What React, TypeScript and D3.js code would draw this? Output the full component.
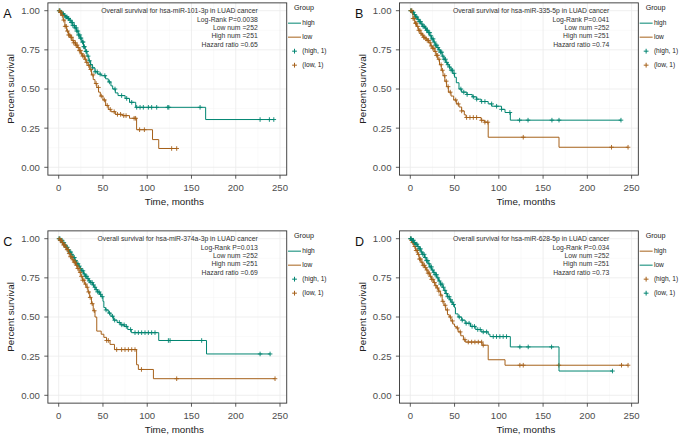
import React from "react";
import * as d3 from "d3";

type Step = [number, number];

const GREEN = "#018571";
const BROWN = "#a6611a";
const FONT = "'Liberation Sans', Arial, Helvetica, sans-serif";

const xTicks = [0, 50, 100, 150, 200, 250];
const xMinor = [25, 75, 125, 175, 225];
const yTicks = [0, 0.25, 0.5, 0.75, 1];
const yMinor = [0.125, 0.375, 0.625, 0.875];
const yTickLabels = ["0.00", "0.25", "0.50", "0.75", "1.00"];

// ---- panel A: hsa-miR-101-3p
const aHighSteps: Step[] = [
  [2, 0.99], [4, 0.98], [6, 0.97], [8, 0.96], [10, 0.95], [12, 0.94], [14, 0.925], [16, 0.905],
  [18, 0.89], [20, 0.87], [22, 0.845], [24, 0.825], [26, 0.8], [28, 0.77], [30, 0.74], [32, 0.71],
  [34, 0.68], [36, 0.655], [38, 0.635], [41, 0.61], [44, 0.595], [48, 0.585], [53, 0.565],
  [56, 0.545], [59, 0.52], [61, 0.5], [64, 0.475], [67, 0.458], [75, 0.44], [80, 0.415],
  [87, 0.383], [166, 0.305],
];
const aLowSteps: Step[] = [
  [1, 0.99], [3, 0.97], [5, 0.94], [7, 0.9], [9, 0.87], [11, 0.845], [13, 0.83], [15, 0.81],
  [17, 0.795], [19, 0.78], [21, 0.765], [23, 0.745], [25, 0.725], [27, 0.71], [29, 0.69],
  [31, 0.67], [33, 0.65], [35, 0.625], [37, 0.59], [39, 0.56], [41, 0.535], [43, 0.51],
  [45, 0.48], [47, 0.455], [50, 0.43], [53, 0.395], [56, 0.37], [59, 0.355], [64, 0.338],
  [72, 0.33], [80, 0.313], [88, 0.24], [106, 0.177], [113, 0.12],
];
const aHighCensor = [
  0.5, 1.5, 2.3, 3.1, 4.6, 5.2, 6.8, 8.1, 9.4, 10.7, 11.3, 12.9, 14.2, 15.5, 16.1, 17.8, 18.6,
  19.9, 20.4, 21.7, 22.3, 23.8, 24.5, 25.2, 26.9, 27.6, 28.3, 29.1, 30.8, 31.5, 33.2, 34.7,
  36.1, 38.4, 41.2, 43.5, 46.8, 52.1, 57.3, 63.6, 71.1, 76.8, 82.5, 88.1, 91.9, 95.6, 101.3,
  105, 110.7, 123.2, 124.4, 159.7, 227.5, 238, 243,
];
const aLowCensor = [
  0.8, 1.9, 2.6, 4.1, 5.7, 7.3, 8.6, 9.9, 11.2, 12.5, 13.8, 14.6, 16.3, 17.1, 18.9, 19.6, 20.8,
  22.1, 23.4, 24.7, 25.9, 27.2, 28.8, 30.1, 31.6, 33.9, 36.2, 38.7, 42.3, 44.9, 48.1, 51.6,
  54.8, 58.2, 62.7, 66.4, 69.9, 73.5, 76.1, 85.2, 86.9, 91.4, 96.8, 127.6, 133.3,
];

// ---- panel B: hsa-miR-335-5p
const bHighSteps: Step[] = [
  [2, 0.99], [4, 0.975], [6, 0.96], [8, 0.945], [10, 0.93], [12, 0.915], [14, 0.9], [16, 0.89],
  [18, 0.875], [20, 0.86], [22, 0.84], [24, 0.82], [26, 0.8], [28, 0.78], [30, 0.765],
  [32, 0.75], [34, 0.735], [36, 0.71], [38, 0.69], [40, 0.67], [42, 0.655], [44, 0.64],
  [46, 0.62], [48, 0.6], [50, 0.575], [52, 0.54], [55, 0.5], [58, 0.48], [64, 0.465],
  [70, 0.45], [75, 0.435], [80, 0.42], [88, 0.405], [92, 0.39], [103, 0.37], [107, 0.35],
  [113, 0.301],
];
const bLowSteps: Step[] = [
  [2, 0.98], [3, 0.95], [5, 0.92], [7, 0.9], [9, 0.875], [11, 0.855], [13, 0.845], [15, 0.83],
  [17, 0.82], [19, 0.81], [21, 0.795], [23, 0.775], [25, 0.76], [27, 0.74], [29, 0.715],
  [31, 0.69], [33, 0.655], [35, 0.62], [37, 0.585], [39, 0.55], [41, 0.515], [43, 0.48],
  [46, 0.455], [49, 0.43], [52, 0.405], [55, 0.385], [58, 0.36], [61, 0.335], [63, 0.318],
  [80, 0.3], [84, 0.288], [88, 0.192], [168, 0.128],
];
const bHighCensor = [
  0.4, 1.2, 2.7, 3.5, 4.8, 6.1, 7.4, 8.9, 10.2, 11.6, 13.1, 14.4, 15.8, 17.2, 18.5, 19.3, 20.7,
  21.9, 23.2, 24.6, 25.8, 27.1, 28.4, 29.9, 31.2, 32.6, 34.1, 35.5, 36.8, 38.2, 39.7, 41.1,
  42.6, 44.3, 46.2, 47.8, 49.5, 57.1, 60.4, 64.2, 71.2, 75, 80.6, 84.3, 91.9, 97.5, 103.1,
  112.5, 123.5, 133, 160, 168, 238,
];
const bLowCensor = [
  0.6, 1.8, 3.2, 4.4, 5.9, 6.7, 8.3, 9.6, 10.8, 12.3, 13.7, 15.1, 16.4, 17.9, 19.2, 20.6, 22.4,
  23.7, 25.3, 26.6, 28.2, 29.5, 30.9, 32.4, 34.8, 36.3, 38.9, 40.6, 42.7, 45.1, 51.3, 54.2,
  58, 63.6, 67.4, 71.2, 74.9, 80.6, 84.3, 87.6, 127.6, 227.3, 246,
];

// ---- panel C: hsa-miR-374a-3p
const cHighSteps: Step[] = [
  [2, 0.99], [4, 0.975], [6, 0.96], [8, 0.945], [10, 0.93], [12, 0.915], [14, 0.9], [16, 0.88],
  [18, 0.86], [20, 0.84], [22, 0.825], [24, 0.81], [26, 0.795], [28, 0.775], [30, 0.76],
  [32, 0.745], [34, 0.73], [36, 0.72], [38, 0.705], [40, 0.69], [42, 0.675], [44, 0.66],
  [46, 0.645], [48, 0.63], [50, 0.6], [51, 0.56], [53, 0.545], [56, 0.525], [59, 0.505],
  [62, 0.48], [66, 0.465], [70, 0.45], [74, 0.44], [78, 0.42], [82, 0.4], [113, 0.35],
  [167, 0.264],
];
const cLowSteps: Step[] = [
  [1, 0.99], [3, 0.975], [5, 0.96], [7, 0.945], [9, 0.93], [11, 0.905], [13, 0.885],
  [15, 0.865], [17, 0.85], [19, 0.83], [21, 0.81], [23, 0.785], [25, 0.76], [27, 0.735],
  [29, 0.71], [31, 0.69], [33, 0.66], [35, 0.625], [37, 0.585], [39, 0.54], [41, 0.5],
  [43, 0.41], [48, 0.39], [51, 0.37], [54, 0.35], [58, 0.325], [63, 0.292], [88, 0.195],
  [90, 0.165], [107, 0.106],
];
const cHighCensor = [
  0.3, 1.4, 2.2, 3.7, 4.5, 5.8, 7.1, 8.4, 9.7, 10.9, 12.2, 13.6, 14.8, 16.3, 17.7, 19.1, 20.5,
  21.8, 23.3, 24.7, 26.1, 27.4, 28.9, 30.2, 31.7, 33.1, 34.6, 36.2, 37.8, 39.3, 40.9, 42.4,
  44.1, 45.7, 47.3, 49.2, 53.5, 57.4, 60.8, 63.2, 68.5, 71.3, 73.9, 76.4, 81.2, 86.2, 90,
  93.7, 97.5, 101.3, 105, 108.8, 123.9, 125.8, 161.5, 227.5, 238.8,
];
const cLowCensor = [
  0.7, 1.6, 2.9, 4.2, 5.5, 6.9, 8.2, 9.5, 10.6, 11.9, 13.3, 14.7, 16.1, 17.5, 18.8, 20.2, 21.6,
  22.9, 24.3, 25.6, 27.1, 28.5, 30.4, 32.2, 33.8, 35.6, 37.9, 40.2, 54.2, 56.1, 65.5, 71.1,
  74.9, 78.7, 82.5, 86.2, 93.5, 133.3, 244.4,
];

// ---- panel D: hsa-miR-628-5p (high = brown, low = green)
const dHighSteps: Step[] = [
  [1, 0.99], [2, 0.975], [4, 0.95], [6, 0.925], [8, 0.9], [10, 0.87], [12, 0.85], [14, 0.83],
  [16, 0.815], [18, 0.8], [20, 0.78], [22, 0.76], [24, 0.74], [26, 0.72], [28, 0.7],
  [30, 0.685], [32, 0.665], [34, 0.64], [36, 0.6], [38, 0.575], [40, 0.545], [42, 0.515],
  [44, 0.5], [46, 0.475], [48, 0.455], [50, 0.44], [52, 0.43], [54, 0.405], [57, 0.38],
  [60, 0.355], [62, 0.34], [81, 0.32], [88, 0.227], [107, 0.192],
];
const dLowSteps: Step[] = [
  [2, 0.99], [4, 0.975], [6, 0.965], [8, 0.95], [10, 0.935], [12, 0.915], [14, 0.9],
  [16, 0.88], [18, 0.86], [20, 0.84], [22, 0.82], [24, 0.8], [26, 0.785], [28, 0.77],
  [30, 0.75], [32, 0.73], [34, 0.71], [36, 0.69], [38, 0.67], [40, 0.65], [42, 0.63],
  [44, 0.61], [46, 0.595], [48, 0.58], [50, 0.56], [51, 0.52], [54, 0.5], [58, 0.48],
  [62, 0.46], [68, 0.44], [74, 0.42], [80, 0.405], [88, 0.39], [90, 0.375], [113, 0.309],
  [168, 0.155],
];
const dHighCensor = [
  0.5, 1.3, 2.8, 3.9, 5.1, 6.6, 7.8, 9.2, 10.4, 11.7, 13.2, 14.5, 15.9, 17.3, 18.7, 20.1, 21.4,
  22.8, 24.2, 25.5, 27.3, 28.9, 30.6, 32.3, 34.5, 36.8, 39.4, 41.9, 45.3, 47.6, 53.2, 56.4,
  61.7, 65.5, 69.3, 73, 76.8, 80.6, 82.4, 123.8, 127.6, 167.8, 238.6, 246,
];
const dLowCensor = [
  0.2, 1.1, 2.4, 3.6, 4.9, 6.3, 7.5, 8.8, 10.1, 11.5, 12.8, 14.1, 15.6, 16.9, 18.3, 19.7, 21.1,
  22.5, 23.9, 25.3, 26.7, 28.1, 29.6, 31.1, 32.7, 34.2, 35.8, 37.4, 39.1, 40.7, 42.3, 43.9,
  45.6, 47.2, 48.9, 55.3, 58.7, 63.1, 66.4, 69.8, 72.5, 76.2, 79, 82.4, 86.2, 93.7, 97.4,
  101.2, 104.9, 108.7, 123.8, 133.2, 159.6, 228.4,
];

const survAt = (steps: Step[], t: number) => {
  let s = 1;
  for (const [st, sv] of steps) {
    if (st <= t) s = sv;
    else break;
  }
  return s;
};

type Curve = { steps: Step[]; censor: number[]; color: string };

type PanelProps = {
  letter: string;
  left: number;
  top: number;
  mirna: string;
  pval: string;
  hr: string;
  curves: Curve[];
  legendColors: [string, string];
};

const Panel = ({ letter, left, top, mirna, pval, hr, curves, legendColors }: PanelProps) => {
  const x = d3.scaleLinear().domain([0, 250]).range([left, left + 221.3]);
  const y = d3.scaleLinear().domain([0, 1]).range([top + 156.6, top]);
  const rx0 = x(-12.2);
  const rx1 = x(257.6);
  const ry0 = y(1.05);
  const ry1 = y(-0.05);

  const line = d3
    .line<Step>()
    .x((d) => x(d[0]))
    .y((d) => y(d[1]))
    .curve(d3.curveStepAfter);

  const cross = (cx: number, cy: number, r = 2.3) =>
    `M${cx - r},${cy}H${cx + r}M${cx},${cy - r}V${cy + r}`;

  const annot = [
    `Overall survival for ${mirna} in LUAD cancer`,
    `Log-Rank P=${pval}`,
    "Low num =252",
    "High num =251",
    `Hazard ratio =${hr}`,
  ];

  const lx = rx1 + 1.3;
  const legendItems = [
    { label: "high", color: legendColors[0], kind: "line" },
    { label: "low", color: legendColors[1], kind: "line" },
    { label: "(high, 1)", color: legendColors[0], kind: "cross" },
    { label: "(low, 1)", color: legendColors[1], kind: "cross" },
  ];

  return (
    <g fontFamily={FONT}>
      <text x={left - 55.4} y={ry0 + 15.6} fontSize={12.5} fill="#111">
        {letter}
      </text>
      <rect x={rx0} y={ry0} width={rx1 - rx0} height={ry1 - ry0} fill="#fff" />
      {xMinor.map((t) => (
        <line key={"xm" + t} x1={x(t)} x2={x(t)} y1={ry0} y2={ry1} stroke="#f5f5f5" strokeWidth={0.5} />
      ))}
      {yMinor.map((t) => (
        <line key={"ym" + t} x1={rx0} x2={rx1} y1={y(t)} y2={y(t)} stroke="#f5f5f5" strokeWidth={0.5} />
      ))}
      {xTicks.map((t) => (
        <line key={"xg" + t} x1={x(t)} x2={x(t)} y1={ry0} y2={ry1} stroke="#ebebeb" strokeWidth={0.8} />
      ))}
      {yTicks.map((t) => (
        <line key={"yg" + t} x1={rx0} x2={rx1} y1={y(t)} y2={y(t)} stroke="#ebebeb" strokeWidth={0.8} />
      ))}

      {curves.map((c, i) => {
        const last = c.steps[c.steps.length - 1];
        const end = Math.max(last[0], d3.max(c.censor) ?? 0);
        const pts: Step[] = [[0, 1], ...c.steps, [end, last[1]]];
        return (
          <g key={i}>
            <path d={line(pts) ?? ""} fill="none" stroke={c.color} strokeWidth={1} />
            <path
              d={c.censor.map((t) => cross(x(t), y(survAt(c.steps, t)))).join("")}
              fill="none"
              stroke={c.color}
              strokeWidth={0.9}
            />
          </g>
        );
      })}

      <rect x={rx0} y={ry0} width={rx1 - rx0} height={ry1 - ry0} fill="none" stroke="#333" strokeWidth={0.9} />

      {annot.map((s, i) => (
        <text key={i} x={rx1 - 29} y={ry0 + 10.5 + i * 8.3} fontSize={6.8} fill="#333" textAnchor="end">
          {s}
        </text>
      ))}

      {yTicks.map((t, i) => (
        <g key={"yt" + t}>
          <line x1={rx0 - 3.6} x2={rx0} y1={y(t)} y2={y(t)} stroke="#333" strokeWidth={0.8} />
          <text x={rx0 - 8} y={y(t)} dy="0.36em" fontSize={9.6} fill="#4d4d4d" textAnchor="end">
            {yTickLabels[i]}
          </text>
        </g>
      ))}
      {xTicks.map((t) => (
        <g key={"xt" + t}>
          <line x1={x(t)} x2={x(t)} y1={ry1} y2={ry1 + 3.6} stroke="#333" strokeWidth={0.8} />
          <text x={x(t)} y={ry1 + 16.3} fontSize={9.6} fill="#4d4d4d" textAnchor="middle">
            {t}
          </text>
        </g>
      ))}
      <text x={(rx0 + rx1) / 2 + 7} y={ry1 + 30} fontSize={9.8} fill="#222" textAnchor="middle">
        Time, months
      </text>
      <text
        transform={`translate(${rx0 - 33.8},${(ry0 + ry1) / 2}) rotate(-90)`}
        fontSize={9.8}
        fill="#222"
        textAnchor="middle"
      >
        Percent survival
      </text>

      <text x={lx + 6} y={ry0 + 7.6} fontSize={7.2} fill="#222">
        Group
      </text>
      {legendItems.map((it, i) => {
        const cy = ry0 + 20.3 + i * 14;
        return (
          <g key={it.label}>
            {it.kind === "line" ? (
              <line x1={lx} x2={lx + 13} y1={cy} y2={cy} stroke={it.color} strokeWidth={1} />
            ) : (
              <path d={cross(lx + 6.5, cy, 2.4)} stroke={it.color} strokeWidth={1} fill="none" />
            )}
            <text x={lx + 14.3} y={cy} dy="0.35em" fontSize={6.6} fill="#222">
              {it.label}
            </text>
          </g>
        );
      })}
    </g>
  );
};

export default function App() {
  return (
    <svg
      width={681}
      height={437}
      viewBox="0 0 681 437"
      style={{ position: "absolute", left: 0, top: 0, background: "#fff" }}
    >
      <rect width={681} height={437} fill="#fff" />
      <Panel
        letter="A"
        left={58.7}
        top={10.7}
        mirna="hsa-miR-101-3p"
        pval="0.0038"
        hr="0.65"
        legendColors={[GREEN, BROWN]}
        curves={[
          { steps: aHighSteps, censor: aHighCensor, color: GREEN },
          { steps: aLowSteps, censor: aLowCensor, color: BROWN },
        ]}
      />
      <Panel
        letter="B"
        left={410.3}
        top={10.7}
        mirna="hsa-miR-335-5p"
        pval="0.041"
        hr="0.74"
        legendColors={[GREEN, BROWN]}
        curves={[
          { steps: bHighSteps, censor: bHighCensor, color: GREEN },
          { steps: bLowSteps, censor: bLowCensor, color: BROWN },
        ]}
      />
      <Panel
        letter="C"
        left={58.7}
        top={238.7}
        mirna="hsa-miR-374a-3p"
        pval="0.013"
        hr="0.69"
        legendColors={[GREEN, BROWN]}
        curves={[
          { steps: cHighSteps, censor: cHighCensor, color: GREEN },
          { steps: cLowSteps, censor: cLowCensor, color: BROWN },
        ]}
      />
      <Panel
        letter="D"
        left={410.3}
        top={238.7}
        mirna="hsa-miR-628-5p"
        pval="0.034"
        hr="0.73"
        legendColors={[BROWN, GREEN]}
        curves={[
          { steps: dHighSteps, censor: dHighCensor, color: BROWN },
          { steps: dLowSteps, censor: dLowCensor, color: GREEN },
        ]}
      />
    </svg>
  );
}
